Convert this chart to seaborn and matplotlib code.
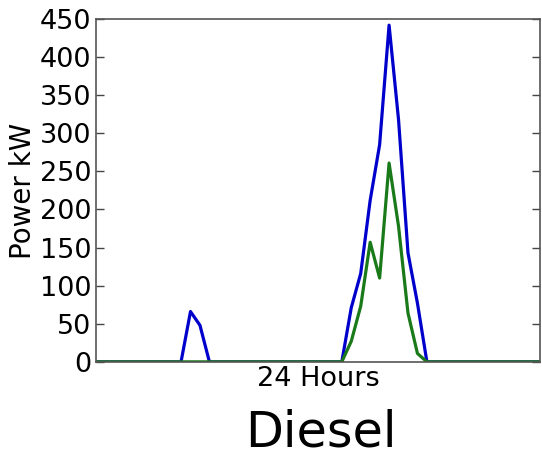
import numpy as np
import pandas as pd
import seaborn as sns
import matplotlib.pyplot as plt

# half-hour slots over a day
slots = list(range(48))

# total diesel output (blue) and the second series (green), kW
total_kw = [0] * 48
total_kw[9:13] = [0, 66, 48, 0]
total_kw[26:36] = [0, 71, 116, 212, 285, 442, 318, 143, 77, 0]

part_kw = [0] * 48
part_kw[26:36] = [0, 27, 73, 157, 110, 261, 178, 64, 11, 0]

df = pd.DataFrame({"slot": slots, "total": total_kw, "part": part_kw})

sns.set_style("white", rc={"text.color": "black", "axes.labelcolor": "black",
                           "ytick.color": "black", "xtick.color": "black"})
fig = plt.figure(figsize=(5.42, 4.54), dpi=100)
ax = fig.add_axes([0.177, 0.203, 0.82, 0.755])

sns.lineplot(data=df, x="slot", y="total", color="#0000cc", linewidth=2.3, ax=ax)
sns.lineplot(data=df, x="slot", y="part", color="#1a7a1a", linewidth=2.3, ax=ax)

ax.set_xlim(0, 47)
ax.set_ylim(0, 450)
ax.set_yticks(range(0, 451, 50))
ax.set_xticks([])
ax.tick_params(axis="y", direction="in", length=6, width=1, labelsize=19.5,
               left=True, right=True, color="#444444", labelcolor="black")
for s in ax.spines.values():
    s.set_color("#555555")
    s.set_linewidth(1.2)

ax.set_xlabel("24 Hours", fontsize=19.5, labelpad=3)
ax.set_ylabel("Power kW", fontsize=20, labelpad=2)
fig.text(0.592, 0.047, "Diesel", fontsize=35.5, ha="center", va="center")

fig.savefig("out.png", dpi=100)
